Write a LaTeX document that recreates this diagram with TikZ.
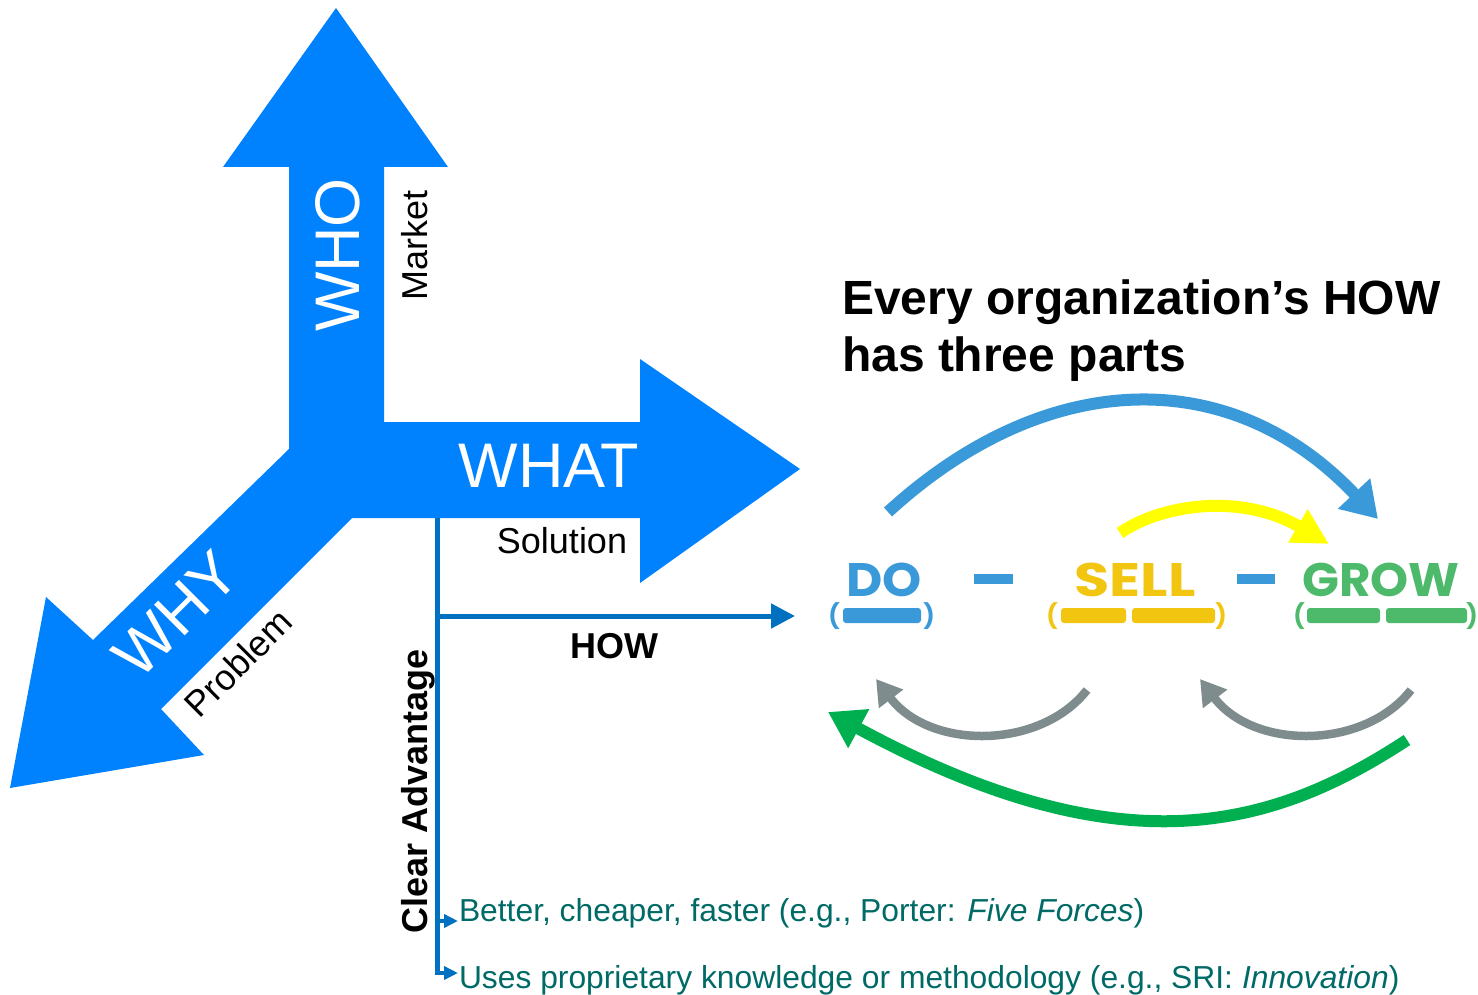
\documentclass[tikz,border=0pt]{standalone}
\usepackage{fontspec}
\setmainfont{Liberation Sans}
\newfontfamily\geofont{Poppins}
\usetikzlibrary{arrows.meta}

\definecolor{bigblue}{RGB}{0,130,255}
\definecolor{howblue}{RGB}{0,112,192}
\definecolor{doblue}{RGB}{58,154,217}
\definecolor{sellgold}{RGB}{242,197,17}
\definecolor{growgreen}{RGB}{76,185,107}
\definecolor{loopgrey}{RGB}{127,140,141}
\definecolor{backgreen}{RGB}{0,176,80}
\definecolor{arcyellow}{RGB}{255,255,0}
\definecolor{noteteal}{RGB}{0,106,102}

\newcommand\setfs[1]{\fontsize{#1}{#1}\selectfont}

\begin{document}
\begin{tikzpicture}[x=1pt,y=-1pt,
  every node/.style={inner sep=0pt,outer sep=0pt},
  axisword/.style={text=white,font={\setfs{63}}},
  axisnote/.style={text=black,font={\setfs{36}}},
  boldnote/.style={text=black,font={\setfs{36}\bfseries}},
  titleline/.style={text=black,anchor=base west,font={\setfs{48}\bfseries}},
  advnote/.style={text=noteteal,anchor=base west,font={\setfs{31.8}}},
  phase/.style={anchor=base,font={\geofont\setfs{47}\bfseries}},
  paren/.style={anchor=center,font={\geofont\setfs{24}\bfseries}},
  bar/.style={rounded corners=3pt},
  howline/.style={howblue,line width=5pt},
  smalltip/.style={-{Triangle[length=14pt,width=13pt]}},
  bigloop/.style={line width=12pt,-{Triangle[length=35pt,width=42pt]}},
  greyloop/.style={loopgrey,line width=8.5pt,-{Triangle[length=25pt,width=29pt]}}]

\useasboundingbox (0,0) rectangle (1478,995);

% three-way arrow: WHO up, WHAT right, WHY down-left
\fill[bigblue] (289,449) -- (289,167) -- (223,167) -- (336,8) -- (448,167)
  -- (384,167) -- (384,422) -- (640,422) -- (640,359) -- (800,469)
  -- (640,583) -- (640,518) -- (352,518) -- (161,709) -- (204,755)
  -- (10,788) -- (46,597) -- (93,640) -- cycle;

\node[axisword,rotate=90] (who) at (338,255) {WHO};
\node[axisnote,rotate=90,anchor=base] (market) at (427,245) {Market};
\node[axisword,anchor=base] (what) at (549,487) {WHAT};
\node[axisnote,anchor=base] (solution) at (562,553) {Solution};
\node[axisword,rotate=45] (why) at (176,614) {WHY};
\node[axisnote,rotate=45] (problem) at (238,663) {Problem};

% HOW connector and the clear-advantage branch
\coordinate (advtop) at (437,518);
\coordinate (howfork) at (437,616);
\coordinate (howend) at (795,616);
\coordinate (fork1) at (437,921);
\coordinate (advbot) at (437,973);
\coordinate (tip1) at (458,921);
\coordinate (tip2) at (458,973);

\draw[howline] (advtop) -- (advbot);
\draw[howline,-{Triangle[length=24pt,width=24pt]}] (howfork) -- (howend);
\draw[howblue,line width=4pt,smalltip] (fork1) -- (tip1);
\draw[howblue,line width=4pt,smalltip] ([xshift=-2pt]advbot) -- (tip2);

\node[boldnote,anchor=base] (how) at (614,658) {HOW};
\node[boldnote,rotate=90,anchor=base] (clear) at (427,791) {Clear Advantage};

\node[advnote] (adv1) at (459,921) {Better, cheaper, faster (e.g., Porter: \textit{Five Forces})};
\node[advnote] (adv2) at (459,988) {Uses proprietary knowledge or methodology (e.g., SRI: \textit{Innovation})};

% title
\node[titleline] (title1) at (842,314) {Every organization’s HOW};
\node[titleline] (title2) at (842,371) {has three parts};

% DO - SELL - GROW
\node[phase,text=doblue,xscale=1.06] (do) at (884,596) {DO};
\node[phase,text=sellgold,xscale=1.22] (sell) at (1135,596) {SELL};
\node[phase,text=growgreen,xscale=1.03] (grow) at (1381,596) {GROW};

\fill[doblue] (974,574) rectangle (1013,584);
\fill[doblue] (1237,574) rectangle (1275,584);

\node[paren,text=doblue] (dol) at (834,616) {(};
\node[paren,text=doblue] (dor) at (929,616) {)};
\fill[doblue,bar] (843,608) rectangle (921,623);

\node[paren,text=sellgold] (selll) at (1052,616) {(};
\node[paren,text=sellgold] (sellr) at (1221,616) {)};
\fill[sellgold,bar] (1061,608) rectangle (1126,623);
\fill[sellgold,bar] (1132,608) rectangle (1215,623);

\node[paren,text=growgreen] (growl) at (1299,616) {(};
\node[paren,text=growgreen] (growr) at (1472,616) {)};
\fill[growgreen,bar] (1307,608) rectangle (1380,623);
\fill[growgreen,bar] (1386,608) rectangle (1467,623);

% loops between the three parts
\coordinate (bluestart) at (888,512);
\coordinate (blueend) at (1378,519);
\draw[bigloop,doblue] (bluestart) .. controls (1045,368) and (1230,362) .. (blueend);

\coordinate (yelstart) at (1120,533);
\coordinate (yelend) at (1329,544);
\draw[arcyellow,line width=12pt,-{Triangle[length=36pt,width=36pt]}]
  (yelstart) .. controls (1160,505) and (1240,492) .. (yelend);

\coordinate (g1start) at (1087,690);
\coordinate (g1end) at (876,679);
\draw[greyloop] (g1start) .. controls (1040,750) and (930,750) .. (g1end);

\coordinate (g2start) at (1411,690);
\coordinate (g2end) at (1200,679);
\draw[greyloop] (g2start) .. controls (1364,750) and (1254,750) .. (g2end);

\coordinate (greenstart) at (1407,740);
\coordinate (greenend) at (828,712);
\draw[bigloop,backgreen] (greenstart) .. controls (1270,830) and (1120,870) .. (greenend);

\end{tikzpicture}
\end{document}
